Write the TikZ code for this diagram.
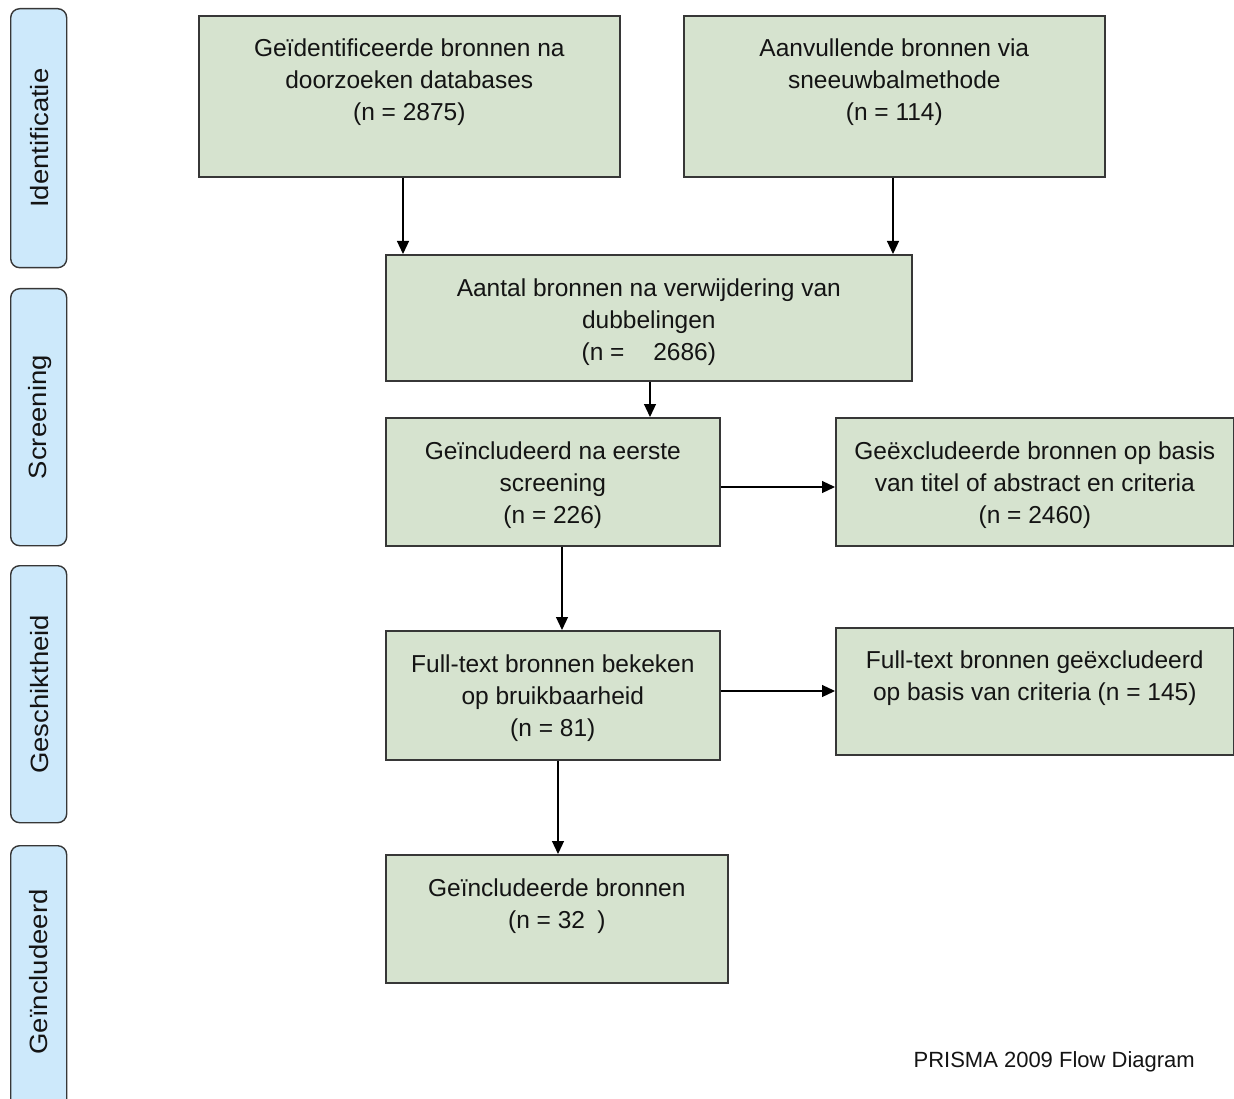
\documentclass[tikz,border=0pt]{standalone}
\usepackage{fontspec}
\setmainfont{Liberation Sans}
\usetikzlibrary{arrows.meta}
\definecolor{boxgreen}{RGB}{214,227,207}
\definecolor{phaseblue}{RGB}{205,233,251}
\definecolor{edge}{RGB}{55,55,55}
\tikzset{
  flowbox/.style={draw=edge, line width=1.6pt, fill=boxgreen, rectangle, inner sep=0pt, anchor=north west},
  boxtext/.style={anchor=north, align=center, inner sep=0pt, font=\fontsize{24.5}{32}\selectfont, text=black!92},
  phase/.style={draw=edge, line width=1.4pt, fill=phaseblue, rounded corners=9pt, inner sep=0pt, anchor=north west, minimum width=56pt},
  phasetext/.style={rotate=90, font=\fontsize{25}{28}\selectfont, text=black!92, xscale=1.1},
  flow/.style={draw=black, line width=1.2pt, -{Triangle[length=13pt,width=12pt]}}
}
\begin{document}
\begin{tikzpicture}[x=1pt,y=-1pt]
\useasboundingbox (0,0) rectangle (1234,1099);
% phase labels
\begin{scope}
\clip (0,0) rectangle (1234,1099);
\node[phase, minimum height=259pt] (p1) at (10,8) {};
\node[phase, minimum height=257pt] (p2) at (10,288) {};
\node[phase, minimum height=257pt] (p3) at (10,565) {};
\node[phase, minimum height=265pt] (p4) at (10,845) {};
\end{scope}
\node[phasetext] (p1t) at ([xshift=1pt]p1.center) {Identificatie};
\node[phasetext] (p2t) at ([xshift=1pt]p2.center) {Screening};
\node[phasetext] (p3t) at ([xshift=1pt]p3.center) {Geschiktheid};
\node[phasetext] (p4t) at (39,972) {Geïncludeerd};
% boxes
\node[flowbox, minimum width=421pt, minimum height=161pt] (a) at (198,15) {};
\node[boxtext] (at) at ([yshift=-24pt]a.north) {Geïdentificeerde bronnen na\\doorzoeken databases\\(n = 2875)};
\node[flowbox, minimum width=421pt, minimum height=161pt] (b) at (683,15) {};
\node[boxtext] (bt) at ([yshift=-24pt]b.north) {Aanvullende bronnen via\\sneeuwbalmethode\\(n = 114)};
\node[flowbox, minimum width=526pt, minimum height=126pt] (c) at (385,254) {};
\node[boxtext] (ct) at ([yshift=-25pt]c.north) {Aantal bronnen na verwijdering van\\dubbelingen\\(n = \hspace{0.9em}2686)};
\node[flowbox, minimum width=334pt, minimum height=128pt] (d) at (385,417) {};
\node[boxtext] (dt) at ([yshift=-25pt]d.north) {Geïncludeerd na eerste\\screening\\(n = 226)};
\node[flowbox, minimum width=398pt, minimum height=128pt] (e) at (835,417) {};
\node[boxtext] (et) at ([yshift=-25pt]e.north) {Geëxcludeerde bronnen op basis\\van titel of abstract en criteria\\(n = 2460)};
\node[flowbox, minimum width=334pt, minimum height=129pt] (f) at (385,630) {};
\node[boxtext] (ft) at ([yshift=-25pt]f.north) {Full-text bronnen bekeken\\op bruikbaarheid\\(n = 81)};
\node[flowbox, minimum width=398pt, minimum height=127pt] (g) at (835,627) {};
\node[boxtext] (gt) at ([yshift=-24pt]g.north) {Full-text bronnen geëxcludeerd\\op basis van criteria (n = 145)};
\node[flowbox, minimum width=342pt, minimum height=128pt] (h) at (385,854) {};
\node[boxtext] (ht) at ([yshift=-25pt]h.north) {Geïncludeerde bronnen\\(n = 32\hspace{0.5em})};
% footer
\node[anchor=east, inner sep=0pt, font=\fontsize{22}{24}\selectfont, text=black!92] (foot) at (1195,1062) {PRISMA 2009 Flow Diagram};
% connectors
\draw[flow] (a.south -| 403,0) -- (c.north -| 403,0);
\draw[flow] (b.south -| 893,0) -- (c.north -| 893,0);
\draw[flow] (c.south -| 650,0) -- (d.north -| 650,0);
\draw[flow] (d.east |- 0,487) -- (e.west |- 0,487);
\draw[flow] (d.south -| 562,0) -- (f.north -| 562,0);
\draw[flow] (f.east |- 0,691) -- (g.west |- 0,691);
\draw[flow] (f.south -| 558,0) -- (h.north -| 558,0);
\end{tikzpicture}
\end{document}
